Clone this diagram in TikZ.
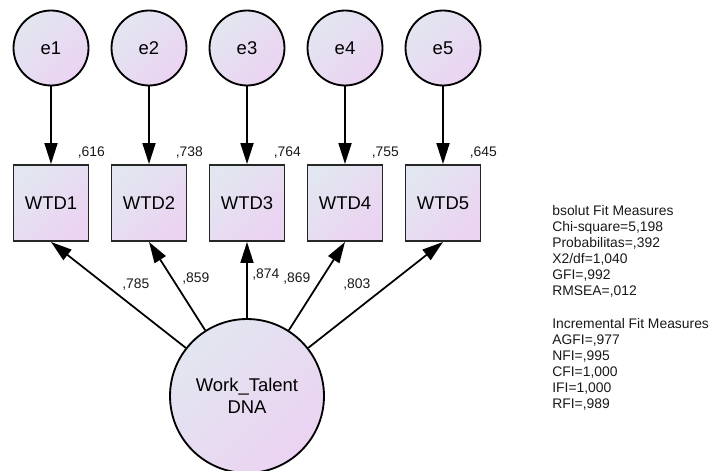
\documentclass[tikz,border=0pt]{standalone}
\usepackage{fontspec}
\setmainfont{Liberation Sans}
\usetikzlibrary{arrows.meta,positioning,calc}

\definecolor{shadeA}{HTML}{E2E6F0}
\definecolor{shadeB}{HTML}{EBD3F2}

\tikzset{
	varfill/.style={top color=shadeA, bottom color=shadeB, shading angle=45},
	errvar/.style={circle, draw=black, line width=1.05pt, varfill, minimum size=1.5cm, inner sep=0pt, font=\fontsize{10.5}{12.5}\selectfont},
	obsvar/.style={rectangle, draw=black!85, line width=1.1pt, varfill, minimum width=1.5cm, minimum height=1.52cm, inner sep=0pt, font=\fontsize{10.5}{12.5}\selectfont},
	latvar/.style={circle, draw=black, line width=1.05pt, varfill, minimum size=3.08cm, inner sep=0pt, align=center, font=\fontsize{10.5}{12.5}\selectfont},
	semarrow/.style={line width=1pt, -{Triangle[length=0.42cm, width=0.26cm]}},
	est/.style={anchor=base west, inner sep=0pt, text=black!90, font=\fontsize{7.9}{9.1}\selectfont},
	fitbox/.style={anchor=north west, inner sep=0pt, align=left, text=black!90, font=\fontsize{7.9}{9.1}\selectfont}
}

\begin{document}
\begin{tikzpicture}[x=0.02cm, y=-0.02cm]
	\useasboundingbox (0,0) rectangle (709,470);

	\node[errvar] (e1) at (51,48) {e1};
	\node[errvar] (e2) at (149,48) {e2};
	\node[errvar] (e3) at (247,48) {e3};
	\node[errvar] (e4) at (345,48) {e4};
	\node[errvar] (e5) at (443,48) {e5};

	\node[obsvar] (w1) at (51,203) {WTD1};
	\node[obsvar] (w2) at (149,203) {WTD2};
	\node[obsvar] (w3) at (247,203) {WTD3};
	\node[obsvar] (w4) at (345,203) {WTD4};
	\node[obsvar] (w5) at (443,203) {WTD5};

	\node[latvar] (dna) at (247,396) {Work\_Talent\\DNA};

	\draw[semarrow] (e1) -- (w1);
	\draw[semarrow] (e2) -- (w2);
	\draw[semarrow] (e3) -- (w3);
	\draw[semarrow] (e4) -- (w4);
	\draw[semarrow] (e5) -- (w5);

	\draw[semarrow] (dna) -- (w1.south);
	\draw[semarrow] (dna) -- (w2.south);
	\draw[semarrow] (dna) -- (w3.south);
	\draw[semarrow] (dna) -- (w4.south);
	\draw[semarrow] (dna) -- (w5.south);

	\node[est] (r1) at ($(w1.north east)+(-12,-8)$) {,616};
	\node[est] (r2) at ($(w2.north east)+(-12,-8)$) {,738};
	\node[est] (r3) at ($(w3.north east)+(-12,-8)$) {,764};
	\node[est] (r4) at ($(w4.north east)+(-12,-8)$) {,755};
	\node[est] (r5) at ($(w5.north east)+(-12,-8)$) {,645};

	\node[est] (l1) at (122,288) {,785};
	\node[est] (l2) at (182,282) {,859};
	\node[est] (l3) at (252,278) {,874};
	\node[est] (l4) at (283,282) {,869};
	\node[est] (l5) at (343,288) {,803};

	\node[fitbox] (absfit) at (552,205) {bsolut Fit Measures\\Chi-square=5,198\\Probabilitas=,392\\X2/df=1,040\\GFI=,992\\RMSEA=,012};
	\node[fitbox] (incfit) at (552,318) {Incremental Fit Measures\\AGFI=,977\\NFI=,995\\CFI=1,000\\IFI=1,000\\RFI=,989};
\end{tikzpicture}
\end{document}
